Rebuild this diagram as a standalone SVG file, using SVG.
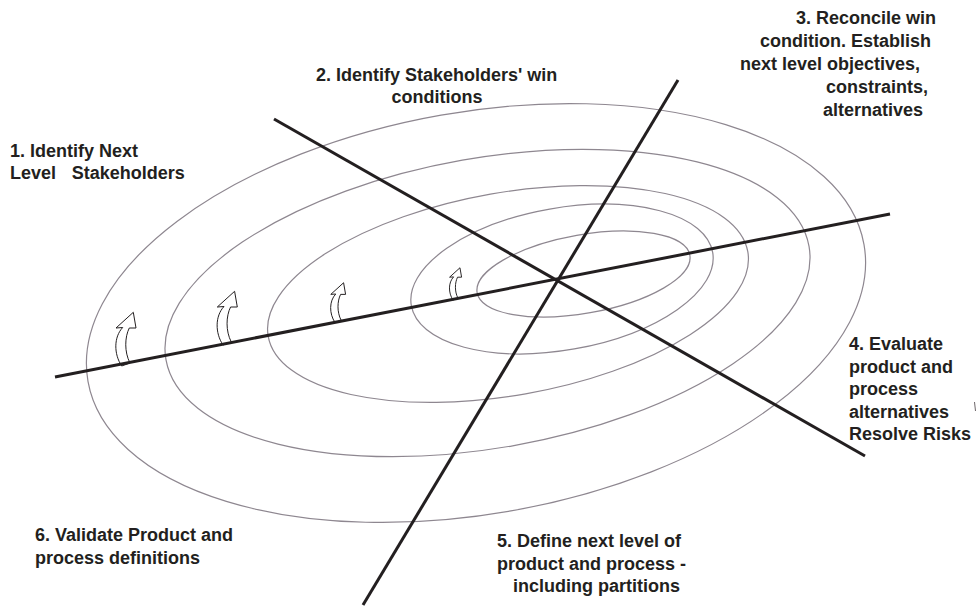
<svg xmlns="http://www.w3.org/2000/svg" width="976" height="616" viewBox="0 0 976 616">
<style>
.ring{fill:none;stroke:#8e8790;stroke-width:1.2}
.axis{stroke:#231f20;stroke-width:3;stroke-linecap:butt;fill:none}
.arr{fill:#fff;stroke:#231f20;stroke-width:1}
text{font-family:"Liberation Sans",Arial,Helvetica,sans-serif;font-weight:bold;font-size:18px;fill:#231f20}
</style>
<defs>
<path id="curlArrow" d="M0,0 C-8,-12 -8,-29 1,-38.5 L-5.7,-38 L11.6,-53.7 L14.3,-38 L7.6,-38 C3,-29 2.5,-14 8.3,-3 Z"/>
</defs>
<rect width="976" height="616" fill="#fff"/>
<g id="rings">
<ellipse class="ring" cx="476" cy="313" rx="394" ry="201" transform="rotate(-10 476 313)"/>
<ellipse class="ring" cx="487.5" cy="303" rx="326.5" ry="145" transform="rotate(-10 487.5 303)"/>
<ellipse class="ring" cx="508" cy="294" rx="243.5" ry="101.4" transform="rotate(-10 508 294)"/>
<ellipse class="ring" cx="562" cy="279" rx="153" ry="71" transform="rotate(-10 562 279)"/>
<ellipse class="ring" cx="583.5" cy="274" rx="108" ry="39.3" transform="rotate(-10 583.5 274)"/>
</g>
<g id="arrows">
<use href="#curlArrow" class="arr" transform="translate(121.7,366)"/>
<use href="#curlArrow" class="arr" transform="translate(223,345)"/>
<use href="#curlArrow" class="arr" transform="translate(335,322.5) scale(0.74)" style="stroke-width:1.35"/>
<use href="#curlArrow" class="arr" transform="translate(453,300) scale(0.6)" style="stroke-width:1.6"/>
</g>
<g id="connectors">
<line class="axis" x1="55" y1="377" x2="890" y2="214"/>
<line class="axis" x1="274" y1="119" x2="865" y2="456"/>
<line class="axis" x1="363" y1="605" x2="678" y2="80"/>
</g>
<g id="edge-mark">
<line x1="974.5" y1="402" x2="975.5" y2="411" stroke="#6d6669" stroke-width="1"/>
</g>
<g id="label1">
<text x="10" y="157">1. Identify Next</text>
<text x="10" y="179">Level<tspan x="71.7">Stakeholders</tspan></text>
</g>
<g id="label2">
<text x="316" y="81">2. Identify Stakeholders' win</text>
<text x="437" y="103" text-anchor="middle">conditions</text>
</g>
<g id="label3">
<text x="796" y="24">3. Reconcile win</text>
<text x="760" y="47">condition. Establish</text>
<text x="740" y="70">next level objectives,</text>
<text x="826" y="93">constraints,</text>
<text x="823" y="116">alternatives</text>
</g>
<g id="label4">
<text x="849" y="350">4. Evaluate</text>
<text x="849" y="372.5">product and</text>
<text x="849" y="395">process</text>
<text x="849" y="417.5">alternatives</text>
<text x="849" y="440">Resolve Risks</text>
</g>
<g id="label5">
<text x="497" y="547">5. Define next level of</text>
<text x="497" y="569.5">product and process -</text>
<text x="513" y="592">including partitions</text>
</g>
<g id="label6">
<text x="35" y="541">6. Validate Product and</text>
<text x="35" y="563.5">process definitions</text>
</g>
</svg>
